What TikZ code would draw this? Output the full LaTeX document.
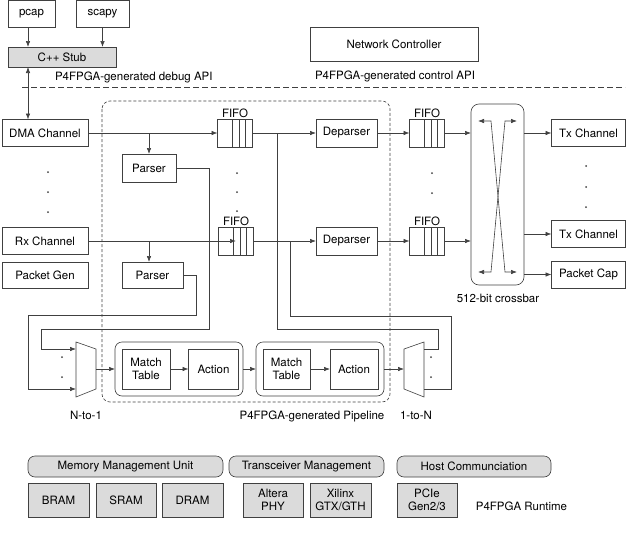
\documentclass[tikz,border=0pt]{standalone}
\usepackage{fontspec}
\setmainfont{TeX Gyre Heros}
\usetikzlibrary{arrows.meta}
\definecolor{boxgray}{gray}{0.86}

\begin{document}
\begin{tikzpicture}[x=1pt, y=-1pt, >={Latex[length=6pt,width=4.5pt]}, line width=0.6pt, draw=black!75]
\tikzstyle{every node}=[font=\fontsize{11.5}{13}\selectfont, inner sep=0pt, outer sep=0pt];
\tikzstyle{blk}=[draw, minimum height=27pt];
\tikzstyle{gblk}=[blk, fill=boxgray];
\tikzstyle{rblk}=[draw, fill=boxgray, rounded corners=7pt, minimum height=21pt];
\tikzstyle{fifo}=[blk, minimum width=35pt, minimum height=28pt, label={[inner sep=1.5pt]above:FIFO},
  path picture={\foreach \d in {15,21.5,28} \draw ([xshift=\d pt]path picture bounding box.south west) -- ([xshift=\d pt]path picture bounding box.north west);}];
\useasboundingbox (0,0) rectangle (633,536);
\node[blk, minimum width=47pt] (pc) at (31.5, 14) {pcap};
\node[blk, minimum width=53pt] (sc) at (102.5, 14) {scapy};
\node[gblk, minimum width=108pt, minimum height=20pt] (stub) at (62, 57) {C++ Stub};
\node[blk, minimum width=168pt, minimum height=34pt] (nc) at (394, 44) {Network Controller};
\node[anchor=west] (dbg) at (55, 77) {P4FPGA-generated debug API};
\node[anchor=west] (ctl) at (315, 76) {P4FPGA-generated control API};
\draw[dash pattern=on 6pt off 3pt] (22,87) -- (625,87);
\draw[->] ([xshift=-3.5pt]pc.south) -- ([xshift=-3.5pt]pc.south |- stub.north);
\draw[->] (sc.south) -- (sc.south |- stub.north);
\node[blk, minimum width=86pt] (dma) at (45, 133) {DMA Channel};
\node[blk, minimum width=86pt] (rx) at (45, 241) {Rx Channel};
\node[blk, minimum width=86pt, minimum height=26pt] (pg) at (45, 275) {Packet Gen};
\draw[<->] (stub.south -| 28,0) -- (dma.north -| 28,0);
\foreach \y in {172,192,212} \fill[black!75] (48,\y) circle (1pt);
\draw[dash pattern=on 3pt off 2pt, rounded corners=8pt] (102,101) rectangle (390,402);
\node[blk, minimum width=54pt, minimum height=28pt] (p1) at (149, 168) {Parser};
\node[blk, minimum width=61pt, minimum height=26pt] (p2) at (152.5, 275) {Parser};
\node[fifo] (f1) at (235, 133) {};
\node[fifo] (f2) at (236, 241) {};
\foreach \y in {173,192,211} \fill[black!75] (237,\y) circle (1pt);
\node[blk, minimum width=61pt, minimum height=28pt] (d1) at (346.5, 133) {Deparser};
\node[blk, minimum width=61pt, minimum height=28pt] (d2) at (346.5, 241) {Deparser};
\node[fifo] (f3) at (427, 133) {};
\node[fifo] (f4) at (427, 241) {};
\foreach \y in {173,193} \fill[black!75] (432,\y) circle (1pt);
\node[draw, rounded corners=8pt, minimum width=53pt, minimum height=181pt] (xb) at (497.5, 194.5) {};
\node (xbl) at (498, 298) {512-bit crossbar};
\draw[<->] (478,121) -- (491,121) -- (505,272) -- (517,272);
\draw[<->] (517,121) -- (505,121) -- (491,272) -- (478,272);
\node[blk, minimum width=74pt] (tx1) at (588.5, 133) {Tx Channel};
\node[blk, minimum width=74pt] (tx2) at (588.5, 234) {Tx Channel};
\node[blk, minimum width=74pt] (cap) at (588.5, 274.5) {Packet Cap};
\foreach \y in {166,187,207} \fill[black!75] (586,\y) circle (1pt);
\draw[->] (dma) -- (f1);
\draw[->] (149,133) -- (p1);
\draw[->] (rx) -- (f2 |- rx);
\draw[->] (149,241) -- (149,241 |- p2.north);
\draw[->] (f1) -- (d1);
\draw[->] (f2) -- (d2);
\draw[->] (d1) -- (f3);
\draw[->] (d2) -- (f4);
\draw[->] (f3) -- (f3 -| xb.west);
\draw[->] (f4) -- (f4 -| xb.west);
\draw[->] (tx1 -| xb.east) -- (tx1);
\draw[->] (tx2 -| xb.east) -- (tx2);
\draw[->] (cap -| xb.east) -- (cap);
\draw (76,342) -- (96,349) -- (96,389) -- (76,397) -- cycle;
\draw (404,349) -- (424,342) -- (424,397) -- (404,389) -- cycle;
\coordinate (in1) at (76,349);
\coordinate (in2) at (76,389);
\coordinate (mo) at (96,369);
\coordinate (mi) at (404,369);
\coordinate (out1) at (424,349);
\coordinate (out2) at (424,389);
\foreach \y in {357,377} {\fill[black!75] (62,\y) circle (1pt); \fill[black!75] (431,\y) circle (1pt);}
\draw[->] (p1.east) -| (209,329) -| (41,349) -- (in1);
\draw[->] (p2.east) -| (196,315) -| (28,389) -- (in2);
\draw (277,133) |- (438,329) |- (out1);
\draw (290,241) |- (451,316) |- (out2);
\node[draw, rounded corners=7pt, minimum width=128pt, minimum height=54pt] (s1) at (179, 369) {};
\node[draw, rounded corners=7pt, minimum width=128pt, minimum height=54pt] (s2) at (320, 369) {};
\node[blk, minimum width=48pt, minimum height=40pt, align=center] (m1) at (146, 369) {Match\\Table};
\node[blk, minimum width=50pt, minimum height=40pt] (a1) at (213.5, 369) {Action};
\node[blk, minimum width=47pt, minimum height=40pt, align=center] (m2) at (286.5, 369) {Match\\Table};
\node[blk, minimum width=48pt, minimum height=40pt] (a2) at (354, 369) {Action};
\draw[->] (mo) -- (s1);
\draw[->] (m1) -- (a1);
\draw[->] (s1) -- (s2);
\draw[->] (m2) -- (a2);
\draw[->] (s2) -- (mi);
\node (nl) at (86, 415) {N-to-1};
\node (pl) at (312, 416) {P4FPGA-generated Pipeline};
\node (ln) at (416, 415) {1-to-N};
\node[rblk, minimum width=195pt] (mmu) at (125.5, 466.5) {Memory Management Unit};
\node[rblk, minimum width=155pt] (tm) at (306.5, 466.5) {Transceiver Management};
\node[rblk, minimum width=154pt] (hc) at (474, 466.5) {Host Communciation};
\node[gblk, minimum width=61pt, minimum height=34pt] (bram) at (58.5, 500) {BRAM};
\node[gblk, minimum width=60pt, minimum height=34pt] (sram) at (126, 500) {SRAM};
\node[gblk, minimum width=61pt, minimum height=34pt] (dram) at (192.5, 500) {DRAM};
\node[gblk, minimum width=60pt, minimum height=34pt, align=center] (alt) at (273, 500) {Altera\\PHY};
\node[gblk, minimum width=61pt, minimum height=34pt, align=center] (xil) at (340.5, 500) {Xilinx\\GTX/GTH};
\node[gblk, minimum width=60pt, minimum height=34pt, align=center] (pcie) at (427, 500) {PCIe\\Gen2/3};
\node (rt) at (521.5, 506) {P4FPGA Runtime};
\end{tikzpicture}
\end{document}
